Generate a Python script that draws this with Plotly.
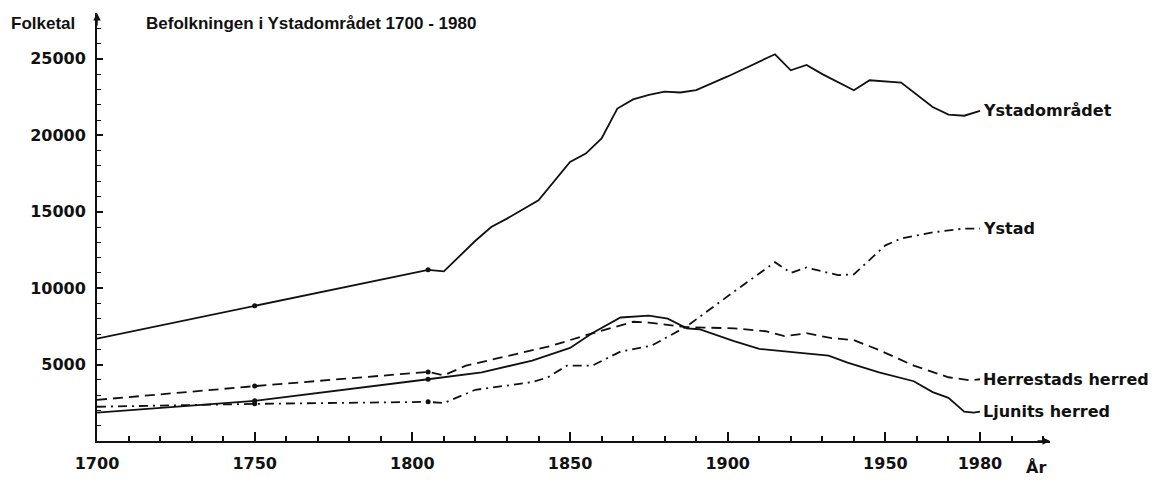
import plotly.graph_objects as go

# ---- data ----
omr_years = [1700, 1750, 1805, 1810, 1820, 1825, 1830, 1840, 1850, 1855, 1860, 1865, 1870, 1875, 1880,
             1885, 1890, 1900, 1910, 1915, 1920, 1925, 1930, 1940, 1945, 1955, 1965, 1970, 1975, 1980]
omr_vals = [6700, 8850, 11200, 11100, 13100, 14000, 14550, 15750, 18250, 18800, 19800, 21750, 22350, 22650, 22850,
            22800, 22950, 23850, 24800, 25300, 24250, 24600, 24000, 22950, 23600, 23450, 21850, 21350, 21280, 21600]

ystad_years = [1700, 1750, 1805, 1810, 1820, 1838, 1843, 1849, 1857, 1866, 1876, 1887, 1901, 1915, 1920, 1925,
               1935, 1940, 1950, 1955, 1965, 1975, 1980]
ystad_vals = [2240, 2430, 2560, 2480, 3350, 3850, 4170, 4930, 4930, 5850, 6250, 7500, 9620, 11700, 11000, 11350,
              10850, 10900, 12800, 13250, 13650, 13900, 13900]

herr_years = [1700, 1750, 1805, 1810, 1817, 1828, 1844, 1855, 1870, 1875, 1881, 1887, 1902, 1912, 1918, 1925,
              1933, 1940, 1948, 1959, 1970, 1977, 1980]
herr_vals = [2690, 3590, 4520, 4300, 4930, 5450, 6220, 6920, 7800, 7750, 7600, 7450, 7370, 7180, 6860, 7050,
             6730, 6600, 5950, 4930, 4170, 3970, 4040]

ljun_years = [1700, 1750, 1805, 1810, 1822, 1838, 1850, 1857, 1866, 1875, 1881, 1887, 1891, 1902, 1910, 1923,
              1932, 1938, 1948, 1959, 1965, 1970, 1975, 1978, 1980]
ljun_vals = [1860, 2630, 4040, 4170, 4490, 5260, 6090, 7050, 8080, 8200, 8000, 7370, 7310, 6540, 6030, 5770,
             5580, 5130, 4490, 3910, 3200, 2820, 1920, 1860, 1920]

series_names = ["Ystadområdet", "Ystad", "Herrestads herred", "Ljunits herred"]
x_tick_vals = [1700, 1750, 1800, 1850, 1900, 1950, 1980]
x_tick_text = ["1700", "1750", "1800", "1850", "1900", "1950", "1980"]
y_tick_vals = [5000, 10000, 15000, 20000, 25000]
y_tick_text = ["5000", "10000", "15000", "20000", "25000"]
marked_years = [1750, 1805]

title_text = "Befolkningen i Ystadområdet 1700 - 1980"
y_title = "Folketal"
x_title = "År"

# ---- figure ----
INK = "#111111"
FONT = dict(family="DejaVu Sans", size=16, color=INK, weight="bold")
FONT2 = dict(family="Liberation Sans", size=17, color=INK, weight="bold")

fig = go.Figure()
styles = ["solid", "9px,5px,2px,5px", "10px,6px", "solid"]
all_series = [(omr_years, omr_vals), (ystad_years, ystad_vals), (herr_years, herr_vals), (ljun_years, ljun_vals)]
for (xs, ys), name, dash in zip(all_series, series_names, styles):
    fig.add_trace(go.Scatter(x=xs, y=ys, mode="lines", name=name,
                             line=dict(color=INK, width=1.8, dash=dash), showlegend=False))
    mx = [x for x in xs if x in marked_years]
    my = [y for x, y in zip(xs, ys) if x in marked_years]
    fig.add_trace(go.Scatter(x=mx, y=my, mode="markers", marker=dict(color=INK, size=5),
                             showlegend=False, hoverinfo="skip"))
    fig.add_annotation(x=xs[-1], y=ys[-1], xref="x", yref="y", text=name, showarrow=False,
                       xanchor="left", yanchor="middle", xshift=1, font=FONT)

fig.add_annotation(x=0.049, y=0.975, xref="paper", yref="paper", text=title_text, showarrow=False,
                   xanchor="left", yanchor="middle", font=FONT2)
fig.add_annotation(x=-0.092, y=0.975, xref="paper", yref="paper", text=y_title, showarrow=False,
                   xanchor="left", yanchor="middle", font=FONT2)
fig.add_annotation(x=0.985, y=-0.062, xref="paper", yref="paper", text=x_title, showarrow=False,
                   xanchor="center", yanchor="middle", font=FONT)

# axis arrows
fig.add_annotation(x=0, y=1, xref="paper", yref="paper", ax=0, ay=14, axref="pixel", ayref="pixel",
                   showarrow=True, arrowhead=2, arrowsize=1, arrowwidth=1.5, arrowcolor=INK, text="")
fig.add_annotation(x=1, y=0, xref="paper", yref="paper", ax=-14, ay=0, axref="pixel", ayref="pixel",
                   showarrow=True, arrowhead=2, arrowsize=1, arrowwidth=1.5, arrowcolor=INK, text="")

fig.update_xaxes(range=[1700, 2002.2], showgrid=False, zeroline=False, showline=True, linecolor=INK,
                 linewidth=2, ticks="inside", ticklen=9, tickwidth=2, tickcolor=INK,
                 tickvals=x_tick_vals, ticktext=x_tick_text, tickfont=FONT, ticklabelstandoff=7,
                 minor=dict(dtick=10, tick0=1700, ticks="inside", ticklen=5, tickwidth=1.5, tickcolor=INK))
fig.update_yaxes(range=[0, 28000], showgrid=False, zeroline=False, showline=True, linecolor=INK,
                 linewidth=2, ticks="inside", ticklen=6, tickwidth=1.5, tickcolor=INK,
                 tickvals=y_tick_vals, ticktext=y_tick_text, tickfont=FONT, ticklabelstandoff=6,
                 minor=dict(dtick=1000, tick0=0, ticks="inside", ticklen=4, tickwidth=1.2, tickcolor=INK))

fig.update_layout(width=1155, height=485, autosize=False, plot_bgcolor="white", paper_bgcolor="white",
                  margin=dict(l=97, r=105, t=13, b=35), showlegend=False)

fig.write_html("out.html", config={"displayModeBar": False},
               post_script="document.body.style.margin='0';")
